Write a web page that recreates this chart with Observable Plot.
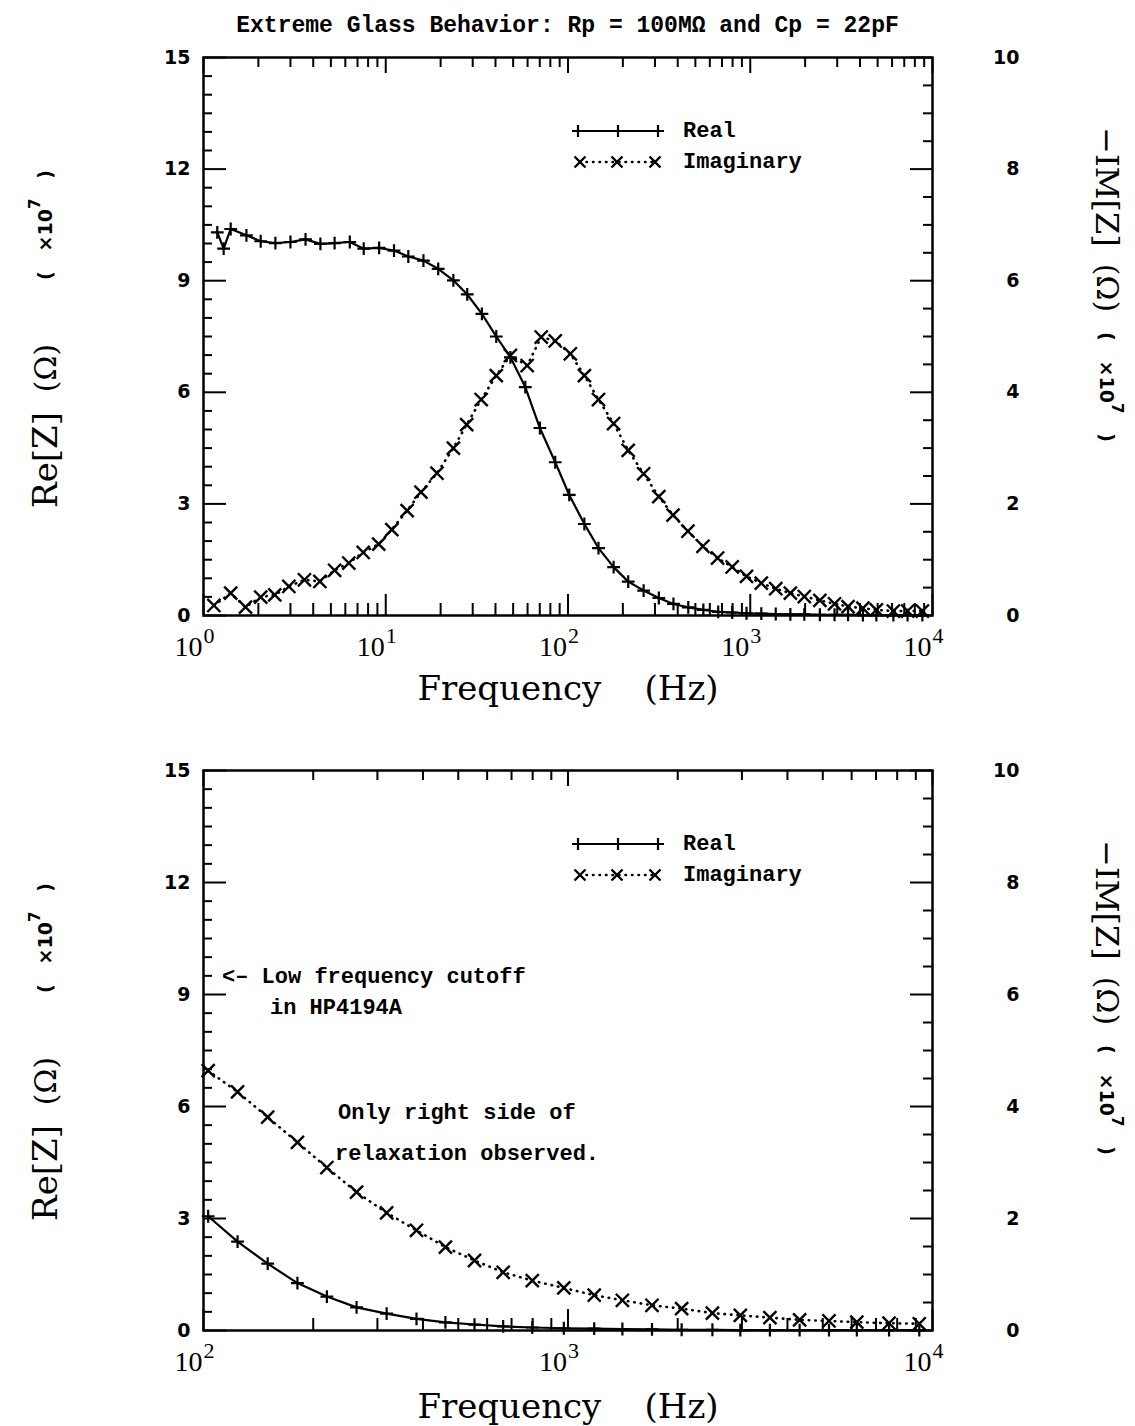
<!DOCTYPE html>
<html><head><meta charset="utf-8">
<script src="https://cdn.jsdelivr.net/npm/d3@7"></script>
<script src="https://cdn.jsdelivr.net/npm/@observablehq/plot@0.6"></script>
<style>
body{margin:0;background:#fff;}
#wrap{position:relative;width:1135px;height:1426px;background:#fff;overflow:hidden;}
#title{position:absolute;left:0;top:13px;width:1135px;text-align:center;font:bold 23px "Liberation Mono",monospace;color:#000;white-space:pre;z-index:5;}
.panel{position:absolute;left:0;z-index:1;}
</style></head><body>
<div id="wrap"><div id="title">Extreme Glass Behavior: Rp = 100MΩ and Cp = 22pF</div></div>
<script>
// ---------- data (Re in 1e7 Ohm on left axis, -Im in 1e7 Ohm on right axis) ----------
const topRealFreq = [1.19,1.29,1.41,1.72,2.06,2.48,3.0,3.63,4.38,5.24,6.35,7.57,9.2,11.1,13.3,16.1,19.4,23.5,28.0,33.7,40.4,48.3,58.3,70.1,85.1,101.6,123,147,178,214,260,315,379,457,553,667,796,954,1150,1380,1660,1980,2410,2900,3440,4150,4920,6100,7300,8800];
const topReal = [10.30,9.86,10.39,10.22,10.06,10.01,10.04,10.11,9.99,10.01,10.04,9.86,9.88,9.81,9.65,9.54,9.32,9.01,8.63,8.11,7.50,6.94,6.14,5.04,4.12,3.24,2.46,1.81,1.30,0.91,0.67,0.47,0.31,0.22,0.15,0.10,0.08,0.06,0.05,0.04,0.03,0.03,0.02,0.02,0.02,0.01,0.01,0.01,0.01,0.01];
const topImagFreq = [1.14,1.41,1.70,2.06,2.46,2.94,3.58,4.35,5.24,6.27,7.52,9.15,10.8,13.1,15.6,19.1,23.5,27.8,33.4,40.4,48.3,59.7,71.3,85.1,103,123,147,178,214,260,315,377,455,550,662,796,954,1150,1380,1660,1980,2410,2900,3440,4150,4920,6100,7300,8800];
const topImag = [0.18,0.40,0.15,0.33,0.37,0.52,0.64,0.61,0.81,0.94,1.13,1.28,1.54,1.88,2.21,2.55,3.00,3.42,3.87,4.30,4.66,4.48,4.99,4.92,4.69,4.30,3.87,3.44,2.96,2.54,2.13,1.80,1.51,1.24,1.03,0.87,0.70,0.58,0.48,0.40,0.34,0.27,0.21,0.16,0.13,0.10,0.08,0.08,0.08];
const botFreq = [103,124,150,181,218,263,318,384,461,554,664,798,974,1180,1410,1700,2050,2490,2970,3580,4320,5200,6200,7600,9200];
const botReal = [3.06,2.38,1.79,1.27,0.91,0.62,0.45,0.31,0.22,0.16,0.11,0.08,0.06,0.05,0.04,0.03,0.02,0.02,0.01,0.01,0.01,0.01,0.01,0.01,0.01];
const botImag = [4.64,4.26,3.81,3.36,2.91,2.47,2.10,1.79,1.49,1.25,1.04,0.89,0.76,0.63,0.54,0.45,0.39,0.31,0.27,0.23,0.19,0.17,0.15,0.13,0.12];
const topDecades = [1,10,100,1000,10000];
const botDecades = [100,1000,10000];
const leftTicks = [0,3,6,9,12,15];
const rightTicks = [0,2,4,6,8,10];
const seriesNames = ["Real","Imaginary"];
const xTitle = "Frequency\u00a0\u00a0\u00a0\u00a0(Hz)";
// --------------------------------------------------------------------------------------

const RATIO = 15/10; // left-axis units per right-axis unit

function panel(opts) {
  const W = 1135, H = opts.height, mt = 57, mb = opts.mb, ml = 203, mr = 203;
  const fw = W - ml - mr, fh = H - mt - mb;
  const dec = opts.decades;
  const minorX = [];
  for (let i = 0; i < dec.length - 1; i++) for (let k = 2; k <= 9; k++) minorX.push(dec[i] * k);
  const leftMinor = d3.range(0, 15.01, 0.5).filter(v => v % 3 !== 0);
  const rightMinor = d3.range(0, 10.01, 0.5).filter(v => v % 2 !== 0).map(v => v * RATIO);
  const real = opts.realF.map((f, i) => ({f, v: opts.real[i]}));
  const imag = opts.imagF.map((f, i) => ({f, v: opts.imag[i]}));
  const lab = {fontFamily: "DejaVu Sans", fontWeight: "bold", fontSize: 19, fill: "black"};
  const svg = Plot.plot({
    width: W, height: H, marginTop: mt, marginBottom: mb, marginLeft: ml, marginRight: mr,
    style: {background: "white", overflow: "visible"},
    x: {type: "log", domain: [dec[0], dec[dec.length - 1]], axis: null},
    y: {domain: [0, 15], axis: null},
    marks: [
      Plot.ruleX(minorX, {x: d => d, insetTop: fh - 12, stroke: "black", strokeWidth: 2}),
      Plot.ruleX(dec, {x: d => d, insetTop: fh - 21, stroke: "black", strokeWidth: 2}),
      Plot.ruleX(minorX, {x: d => d, insetBottom: fh - 10, stroke: "black", strokeWidth: 2}),
      Plot.ruleX(dec, {x: d => d, insetBottom: fh - 16, stroke: "black", strokeWidth: 2}),
      Plot.ruleY(leftMinor, {y: d => d, insetRight: fw - 9, stroke: "black", strokeWidth: 2}),
      Plot.ruleY(leftTicks, {y: d => d, insetRight: fw - 23, stroke: "black", strokeWidth: 2}),
      Plot.ruleY(rightMinor, {y: d => d, insetLeft: fw - 9, stroke: "black", strokeWidth: 2}),
      Plot.ruleY(rightTicks, {y: d => d * RATIO, insetLeft: fw - 22, stroke: "black", strokeWidth: 2}),
      Plot.frame({stroke: "black", strokeWidth: 2.5}),
      Plot.line(real, {x: "f", y: "v", stroke: "black", strokeWidth: 2.2}),
      Plot.line(imag, {x: "f", y: d => d.v * RATIO, stroke: "black", strokeWidth: 2.6, strokeDasharray: "0.5,6", strokeLinecap: "round"}),
      Plot.dot(real, {x: "f", y: "v", symbol: "plus", r: 4.2, stroke: "black", strokeWidth: 2.2}),
      Plot.dot(imag, {x: "f", y: d => d.v * RATIO, symbol: "times", r: 6, stroke: "black", strokeWidth: 2.4}),
      Plot.text(leftTicks, {y: d => d, text: d => String(d), frameAnchor: "left", textAnchor: "end", dx: -13, ...lab}),
      Plot.text(rightTicks, {y: d => d * RATIO, text: d => String(d), frameAnchor: "right", textAnchor: "end", dx: 87, ...lab}),
      Plot.text(dec, {x: d => d, text: () => "10", frameAnchor: "bottom", textAnchor: "end", dx: -1, dy: 40, fontFamily: "Liberation Serif", fontSize: 28, fill: "black"}),
      Plot.text(dec, {x: d => d, text: d => String(Math.round(Math.log10(d))), frameAnchor: "bottom", textAnchor: "start", dx: 0, dy: 27, fontFamily: "Liberation Serif", fontSize: 22, fill: "black"}),
      Plot.text([xTitle], {text: d => d, frameAnchor: "bottom", dy: opts.xTitleDy, fontFamily: "DejaVu Serif", fontSize: 34, fill: "black"})
    ]
  });
  const s = d3.select(svg);
  // axis titles
  function rtext(x, y, angle, txt, size, family, weight) {
    return s.append("text").attr("transform", `translate(${x},${y}) rotate(${angle})`)
      .attr("text-anchor", "middle").attr("dominant-baseline", "central")
      .attr("font-family", family).attr("font-size", size).attr("font-weight", weight || "normal")
      .attr("fill", "black").text(txt);
  }
  function unitText(x, y, angle) {
    const t = s.append("text").attr("transform", `translate(${x},${y}) rotate(${angle})`)
      .attr("text-anchor", "middle").attr("dominant-baseline", "central")
      .attr("font-family", "DejaVu Sans").attr("font-weight", "bold").attr("font-size", 19).attr("fill", "black");
    t.append("tspan").text("(\u00a0\u00a0\u00a0×10");
    t.append("tspan").attr("dy", -10).attr("font-size", 15).text("7");
    t.append("tspan").attr("dy", 10).text("\u00a0\u00a0\u00a0)");
  }
  rtext(45, 460, -90, "Re[Z]", 34, "DejaVu Serif");
  rtext(45, 368, -90, "(Ω)", 30, "DejaVu Serif");
  unitText(45, 225, -90);
  rtext(1107, 187, 90, "\u2212IM[Z]", 32, "DejaVu Serif");
  rtext(1107, 288, 90, "(Ω)", 30, "DejaVu Serif");
  unitText(1107, 387, 90);
  // legend
  const lg = s.append("g").attr("stroke", "black").attr("fill", "none");
  lg.append("line").attr("x1", 578).attr("x2", 658).attr("y1", 131).attr("y2", 131).attr("stroke-width", 2.2);
  [578, 618, 658].forEach(x => lg.append("path").attr("d", `M${x - 6},131H${x + 6}M${x},125V137`).attr("stroke-width", 2.2));
  lg.append("line").attr("x1", 580).attr("x2", 655).attr("y1", 162).attr("y2", 162).attr("stroke-width", 2.6)
    .attr("stroke-dasharray", "0.5,6").attr("stroke-linecap", "round");
  [580, 617, 655].forEach(x => lg.append("path").attr("d", `M${x - 5.5},156.5L${x + 5.5},167.5M${x - 5.5},167.5L${x + 5.5},156.5`).attr("stroke-width", 2.4).attr("stroke", "black"));
  const lt = {family: "Liberation Mono", size: 22};
  seriesNames.forEach((n, i) => s.append("text").attr("x", 683).attr("y", 131 + i * 31).attr("dominant-baseline", "central")
    .attr("text-anchor", "start")
    .attr("font-family", lt.family).attr("font-weight", "bold").attr("font-size", lt.size).attr("fill", "black").text(n));
  (opts.notes || []).forEach(nt => s.append("text").attr("x", nt[0]).attr("y", nt[1]).attr("dominant-baseline", "central")
    .attr("text-anchor", "start")
    .attr("font-family", lt.family).attr("font-weight", "bold").attr("font-size", 22).attr("fill", "black")
    .style("white-space", "pre").text(nt[2]));
  svg.setAttribute("class", "panel");
  svg.style.top = opts.top + "px";
  return svg;
}

const wrap = document.getElementById("wrap");
wrap.appendChild(panel({top: 0, height: 713, mb: 98, decades: topDecades, realF: topRealFreq, real: topReal, imagF: topImagFreq, imag: topImag, xTitleDy: 84}));
wrap.appendChild(panel({top: 713, height: 713, mb: 96, decades: botDecades, realF: botFreq, real: botReal, imagF: botFreq, imag: botImag, xTitleDy: 87,
  notes: [[222, 264, "<\u2013 Low frequency cutoff"], [270, 295, "in HP4194A"], [338, 400, "Only right side of"], [335, 441, "relaxation observed."]]}));
</script>
</body></html>
